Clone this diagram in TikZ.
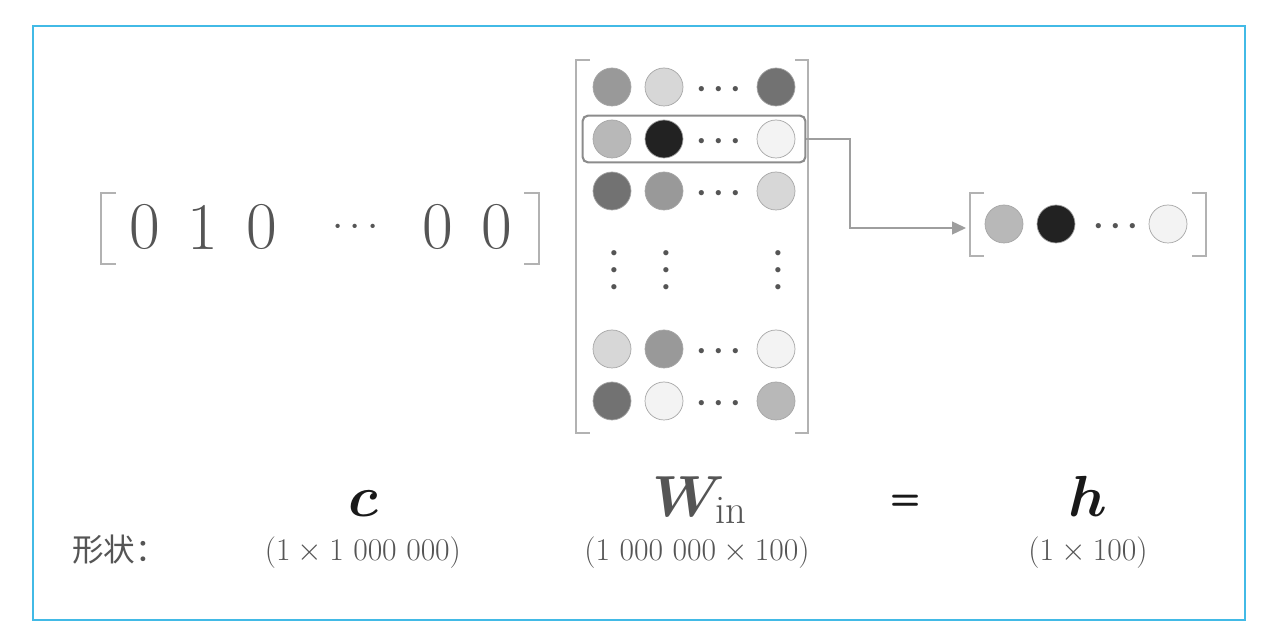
\RequirePackage{fix-cm}
\documentclass[tikz,border=0pt]{standalone}
\usepackage{amsmath,amssymb}
\usepackage{bm}
\usepackage{fontspec}
\newfontfamily\cjk{Noto Sans CJK SC}
\usetikzlibrary{fit,arrows.meta}
\definecolor{frameblue}{RGB}{66,186,230}
\definecolor{ink}{RGB}{85,85,85}
\definecolor{gA}{RGB}{153,153,153}
\definecolor{gB}{RGB}{215,215,215}
\definecolor{gC}{RGB}{114,114,114}
\definecolor{gD}{RGB}{184,184,184}
\definecolor{gE}{RGB}{34,34,34}
\definecolor{gF}{RGB}{243,243,243}
\tikzset{cell/.style={shape=circle,draw=black!35,line width=0.4pt,minimum size=0.76cm,inner sep=0pt},
	brk/.style={draw=black!30,line width=0.8pt},
	num/.style={text=ink,font=\fontsize{38}{38}\selectfont,inner sep=0pt},
	dts/.style={text=ink,font=\fontsize{19}{19}\selectfont,inner sep=0pt},
	vdts/.style={dts,rotate=90},
	sym/.style={font=\fontsize{33}{33}\selectfont,inner sep=0pt,anchor=base},
	dim/.style={text=ink,font=\fontsize{18}{18}\selectfont,inner sep=0pt,anchor=base},
	link/.style={draw=black!38,line width=0.8pt,-{Triangle[length=0.28cm,width=0.26cm]}}}

\begin{document}
\begin{tikzpicture}[x=0.02cm,y=-0.02cm]
	\useasboundingbox (0,0) rectangle (1276,634);
	\draw[frameblue,line width=0.8pt] (33,26) rectangle (1245,620);
	\draw[frameblue,line width=1.4pt] (33,620) -- (1245,620);

	% one-hot vector c
	\draw[brk] (116,193) -- (101,193) -- (101,264) -- (116,264);
	\draw[brk] (524,193) -- (539,193) -- (539,264) -- (524,264);
	\node[num] (c1) at (145,227) {0};
	\node[num] (c2) at (203,227) {1};
	\node[num] (c3) at (262,227) {0};
	\node[text=ink,font=\fontsize{23}{23}\selectfont,inner sep=0pt] (cd) at (359,228) {$\cdots$};
	\node[num] (c4) at (438,227) {0};
	\node[num] (c5) at (497,227) {0};

	% matrix W_in
	\draw[brk] (590,60) -- (576,60) -- (576,433) -- (590,433);
	\draw[brk] (795,60) -- (808,60) -- (808,433) -- (795,433);
	\node[cell,fill=gA] (a1) at (612,87) {};
	\node[cell,fill=gB] (a2) at (664,87) {};
	\node[dts] (ad) at (722,89.5) {$\bm{\cdots}$};
	\node[cell,fill=gC] (a3) at (776,87) {};
	\node[cell,fill=gD] (b1) at (612,139) {};
	\node[cell,fill=gE] (b2) at (664,139) {};
	\node[dts] (bd) at (722,141.5) {$\bm{\cdots}$};
	\node[cell,fill=gF] (b3) at (776,139) {};
	\node[cell,fill=gC] (d1) at (612,191) {};
	\node[cell,fill=gA] (d2) at (664,191) {};
	\node[dts] (dd) at (722,193.5) {$\bm{\cdots}$};
	\node[cell,fill=gB] (d3) at (776,191) {};
	\node[vdts] (v1) at (614.5,267) {$\bm{\cdots}$};
	\node[vdts] (v2) at (666.5,267) {$\bm{\cdots}$};
	\node[vdts] (v3) at (778.5,267) {$\bm{\cdots}$};
	\node[cell,fill=gB] (e1) at (612,349) {};
	\node[cell,fill=gA] (e2) at (664,349) {};
	\node[dts] (ed) at (722,351.5) {$\bm{\cdots}$};
	\node[cell,fill=gF] (e3) at (776,349) {};
	\node[cell,fill=gC] (f1) at (612,401) {};
	\node[cell,fill=gF] (f2) at (664,401) {};
	\node[dts] (fd) at (722,403.5) {$\bm{\cdots}$};
	\node[cell,fill=gD] (f3) at (776,401) {};
	\node[draw=black!45,line width=1.2pt,rounded corners=3pt,inner xsep=0.2cm,inner ysep=0.08cm,fit=(b1)(b3)] (sel) {};

	% result vector h
	\draw[brk] (984,193) -- (970,193) -- (970,256) -- (984,256);
	\draw[brk] (1192,193) -- (1206,193) -- (1206,256) -- (1192,256);
	\node[cell,fill=gD] (h1) at (1004,224) {};
	\node[cell,fill=gE] (h2) at (1056,224) {};
	\node[dts] (hd) at (1119,226.5) {$\bm{\cdots}$};
	\node[cell,fill=gF] (h3) at (1168,224) {};

	\coordinate (bend) at (850,139);
	\coordinate (hin) at (966,228);
	\draw[link] (sel.east) -- (bend) |- (hin);

	% labels
	\node[sym,text=black!90] (lc) at (363,517) {$\bm{c}$};
	\node[sym,text=ink] (lw) at (700,517) {$\bm{W}_{\raisebox{2pt}{$\scriptstyle\mathrm{in}$}}$};
	\node[font=\fontsize{20}{20}\selectfont\sffamily\bfseries,text=black!90] (eq) at (906,502) {=};
	\node[sym,text=black!90] (lh) at (1088,517) {$\bm{h}$};
	\node[dim,anchor=base west,font=\fontsize{18}{18}\selectfont\cjk] (shape) at (72,562) {形状：};
	\node[dim] (sc) at (363,561) {$(1\times 1\ 000\ 000)$};
	\node[dim] (sw) at (697,561) {$(1\ 000\ 000\times 100)$};
	\node[dim] (sh) at (1088,561) {$(1\times 100)$};
\end{tikzpicture}
\end{document}
